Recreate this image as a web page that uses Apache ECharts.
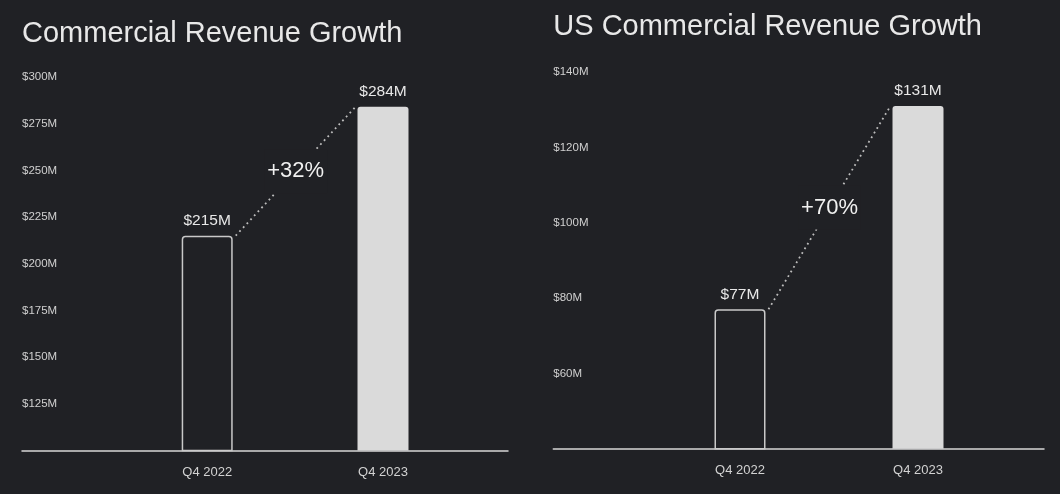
<!DOCTYPE html>
<html>
<head>
<meta charset="utf-8">
<script src="https://cdn.jsdelivr.net/npm/echarts@6/dist/echarts.min.js"></script>
<style>
  html, body { margin: 0; padding: 0; background: #202125; }
  #chart { width: 1060px; height: 494px; }
</style>
</head>
<body>
<div id="chart"></div>
<script>
// ---- data ----
const categories = ['Q4 2022', 'Q4 2023'];
const commercialRevenue = [215, 284];          // $M
const usCommercialRevenue = [77, 131];         // $M
const commercialGrowth = '+32%';
const usCommercialGrowth = '+70%';
const commercialAxis = [100, 300, 25];         // min, max, interval ($M)
const usCommercialAxis = [40, 140, 20];        // min, max, interval ($M)
const titles = ['Commercial Revenue Growth', 'US Commercial Revenue Growth'];

// ---- style ----
const BG = '#202125';
const FONT = 'Liberation Sans, Arial, sans-serif';
const BAR_W = 51;

const panels = [
  { title: titles[0], values: commercialRevenue, growth: commercialGrowth, axis: commercialAxis,
    titleTop: 19, gridA: { left: 22, top: 77, width: 486, height: 373.4 },
    gridB: { left: 119.3, top: 77, width: 351.6, height: 373.4 }, xMargin: 16 },
  { title: titles[1], values: usCommercialRevenue, growth: usCommercialGrowth, axis: usCommercialAxis,
    titleTop: 12, gridA: { left: 553.3, top: 72, width: 490.7, height: 376.7 },
    gridB: { left: 651, top: 72, width: 356, height: 376.7 }, xMargin: 15.5 }
];

const option = {
  backgroundColor: BG,
  animation: false,
  title: [], grid: [], xAxis: [], yAxis: [], series: []
};

panels.forEach((p, k) => {
  const gA = k * 2, gB = k * 2 + 1;
  option.title.push({
    text: p.title, left: p.gridA.left, top: p.titleTop, padding: 0,
    textStyle: { color: '#e8e8e8', fontSize: 29, fontWeight: 'normal', fontFamily: FONT }
  });
  option.grid.push(Object.assign({ outerBoundsMode: 'none', containLabel: false }, p.gridA));
  option.grid.push(Object.assign({ outerBoundsMode: 'none', containLabel: false }, p.gridB));

  const [mn, mx, iv] = p.axis;
  // grid A: full-width base line + y labels
  option.xAxis.push({
    gridIndex: gA, type: 'value', min: 0, max: 1, position: 'bottom',
    axisLine: { show: true, onZero: false, lineStyle: { color: '#d6d6d6', width: 1.5 } },
    axisTick: { show: false }, axisLabel: { show: false }, splitLine: { show: false }
  });
  // grid B: category axis for bars
  const xB = option.xAxis.length;
  option.xAxis.push({
    gridIndex: gB, type: 'category', data: categories, position: 'bottom',
    axisLine: { show: false }, axisTick: { show: false }, splitLine: { show: false },
    axisLabel: { color: '#d2d2d2', fontSize: 13, fontFamily: FONT, margin: p.xMargin }
  });
  // grid B: hidden value axis aligned to category bands (for the connector)
  const xV = option.xAxis.length;
  option.xAxis.push({
    gridIndex: gB, type: 'value', min: -0.5, max: 1.5, show: false, position: 'top'
  });

  option.yAxis.push({
    gridIndex: gA, type: 'value', min: mn, max: mx, interval: iv,
    axisLine: { show: false }, axisTick: { show: false }, splitLine: { show: false },
    axisLabel: {
      inside: true, margin: 0, showMinLabel: false, color: '#d0d0d0', fontSize: 11.5,
      fontFamily: FONT, formatter: v => '$' + v + 'M'
    }
  });
  const yB = option.yAxis.length;
  option.yAxis.push({ gridIndex: gB, type: 'value', min: mn, max: mx, interval: iv, show: false });

  // bars
  option.series.push({
    type: 'bar', xAxisIndex: xB, yAxisIndex: yB, barWidth: BAR_W,
    data: p.values.map((v, i) => ({
      value: v,
      itemStyle: i === 0
        ? { color: 'rgba(0,0,0,0)', borderColor: '#c9c9c9', borderWidth: 1.5, borderRadius: [3, 3, 0, 0] }
        : { color: '#dadada', borderRadius: [3, 3, 0, 0] }
    })),
    label: {
      show: true, position: 'top', distance: 7, color: '#e8e8e8', fontSize: 15.5,
      fontFamily: FONT, formatter: d => '$' + d.value + 'M'
    },
    z: 3
  });

  // dotted connector from first bar's top-right to second bar's top-left
  const unitPx = p.gridB.width / 2;
  const off0 = (BAR_W / 2 + 3) / unitPx;
  const off1 = (BAR_W / 2 + 2) / unitPx;
  const p0 = [0 + off0, p.values[0]];
  const p1 = [1 - off1, p.values[1]];
  option.series.push({
    type: 'line', xAxisIndex: xV, yAxisIndex: yB, data: [p0, p1],
    symbol: 'none', silent: true,
    lineStyle: { color: '#bdbdbd', width: 1.8, type: [1.8, 3.6] }, z: 2
  });
  // growth label at the connector midpoint
  option.series.push({
    type: 'scatter', xAxisIndex: xV, yAxisIndex: yB, symbolSize: 0, silent: true,
    itemStyle: { opacity: 1 },
    data: [[(p0[0] + p1[0]) / 2, (p0[1] + p1[1]) / 2]],
    label: {
      show: true, position: 'inside', formatter: p.growth, color: '#f0f0f0', fontSize: 22,
      fontFamily: FONT, backgroundColor: BG, padding: [11, 3], opacity: 1,
      textBorderWidth: 0, textBorderColor: 'transparent'
    },
    z: 4
  });
});

const chart = echarts.init(document.getElementById('chart'), null, { renderer: 'canvas' });
chart.setOption(option);
</script>
</body>
</html>
